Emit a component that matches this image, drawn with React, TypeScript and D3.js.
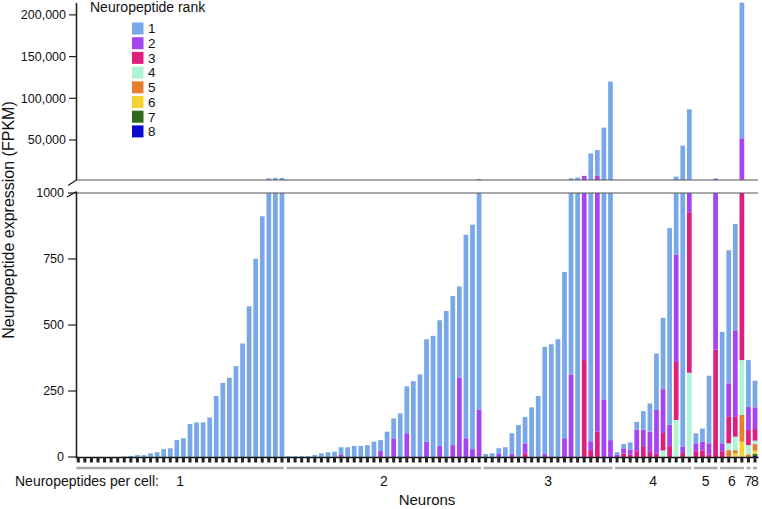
import React from 'react';
import * as d3 from 'd3';

const groupLabels = ['1', '2', '3', '4', '5', '6', '7', '8'];
const groupSizes = [32, 30, 20, 12, 4, 4, 1, 1];
const rankLabels = ['1', '2', '3', '4', '5', '6', '7', '8'];
const rankColors = ['#78a8e8', '#a444f2', '#df1f80', '#aef5d8', '#e67e30', '#f4d232', '#2f6a1a', '#0a0ad0'];
const upperTicks = [50000, 100000, 150000, 200000];
const lowerTicks = [0, 250, 500, 750, 1000];

// FPKM per neuron, one array per neuropeptide rank (104 neurons)
const rank1 = [
  0, 0, 0, 0, 0, 0, 0, 2, 4, 7, 7, 14, 18, 30, 33, 64, 71, 125, 131, 131, 150, 231, 281, 300, 344, 430, 571, 751, 912, 4000, 4500, 4500,
  3, 3, 3, 3, 8, 14, 18, 20, 27, 37, 42, 42, 45, 58, 41, 96, 75, 165, 178, 287, 313, 388, 459, 476, 553, 565, 345, 771, 850, 3120,
  11, 14, 19, 37, 79, 121, 100, 188, 231, 406, 427, 446, 630, 3687, 5000, 0, 33940, 31004, 64582, 119936,
  10, 16, 27, 29, 70, 107, 214, 270, 745, 5333, 43260, 84373,
  38, 50, 256, 193,
  422, 504, 403, 162600,
  177,
  101,
];
const rank2 = [
  0, 0, 0, 0, 0, 0, 0, 0, 0, 0, 0, 0, 0, 0, 0, 0, 0, 0, 0, 0, 0, 0, 0, 0, 0, 0, 0, 0, 0, 0, 0, 0,
  0, 0, 0, 0, 0, 0, 0, 0, 10, 0, 0, 0, 0, 0, 23, 0, 71, 0, 90, 0, 0, 58, 0, 42, 0, 45, 301, 71, 30, 180,
  0, 0, 14, 0, 11, 0, 38, 0, 0, 11, 0, 0, 71, 313, 0, 6633, 34, 6900, 218, 64,
  8, 19, 20, 82, 63, 74, 166, 166, 81, 407, 25, 1500,
  30, 33, 42, 3200,
  30, 127, 328, 49500,
  88,
  82,
];
const rank3 = [
  0, 0, 0, 0, 0, 0, 0, 0, 0, 0, 0, 0, 0, 0, 0, 0, 0, 0, 0, 0, 0, 0, 0, 0, 0, 0, 0, 0, 0, 0, 0, 0,
  0, 0, 0, 0, 0, 0, 0, 0, 0, 0, 0, 0, 0, 0, 0, 0, 0, 0, 0, 0, 0, 0, 0, 0, 0, 0, 0, 0, 0, 0,
  0, 0, 0, 0, 0, 0, 14, 0, 0, 0, 0, 0, 0, 0, 0, 367, 26, 96, 0, 0,
  0, 14, 8, 22, 41, 22, 12, 66, 41, 220, 15, 608,
  22, 25, 10, 407,
  22, 100, 75, 2133,
  57,
  44,
];
const rank4 = [
  0, 0, 0, 0, 0, 0, 0, 0, 0, 0, 0, 0, 0, 0, 0, 0, 0, 0, 0, 0, 0, 0, 0, 0, 0, 0, 0, 0, 0, 0, 0, 0,
  0, 0, 0, 0, 0, 0, 0, 0, 0, 0, 0, 0, 0, 0, 0, 0, 0, 0, 0, 0, 0, 0, 0, 0, 0, 0, 0, 0, 0, 0,
  0, 0, 0, 0, 0, 0, 0, 0, 0, 0, 0, 0, 0, 0, 0, 0, 0, 0, 0, 0,
  0, 0, 0, 0, 0, 0, 0, 25, 0, 140, 0, 319,
  0, 0, 0, 0,
  0, 26, 51, 208,
  35,
  13,
];
const rank5 = [
  0, 0, 0, 0, 0, 0, 0, 0, 0, 0, 0, 0, 0, 0, 0, 0, 0, 0, 0, 0, 0, 0, 0, 0, 0, 0, 0, 0, 0, 0, 0, 0,
  0, 0, 0, 0, 0, 0, 0, 0, 0, 0, 0, 0, 0, 0, 0, 0, 0, 0, 0, 0, 0, 0, 0, 0, 0, 0, 0, 0, 0, 0,
  0, 0, 0, 0, 0, 0, 0, 0, 0, 0, 0, 0, 0, 0, 0, 0, 0, 0, 0, 0,
  0, 0, 0, 0, 0, 0, 0, 0, 0, 0, 0, 0,
  0, 0, 0, 0,
  0, 26, 13, 101,
  10,
  25,
];
const rank6 = [
  0, 0, 0, 0, 0, 0, 0, 0, 0, 0, 0, 0, 0, 0, 0, 0, 0, 0, 0, 0, 0, 0, 0, 0, 0, 0, 0, 0, 0, 0, 0, 0,
  0, 0, 0, 0, 0, 0, 0, 0, 0, 0, 0, 0, 0, 0, 0, 0, 0, 0, 0, 0, 0, 0, 0, 0, 0, 0, 0, 0, 0, 0,
  0, 0, 0, 0, 0, 0, 0, 0, 0, 0, 0, 0, 0, 0, 0, 0, 0, 0, 0, 0,
  0, 0, 0, 0, 0, 0, 0, 0, 0, 0, 0, 0,
  0, 0, 0, 0,
  0, 0, 13, 58,
  0,
  12,
];
const rank7 = [
  0, 0, 0, 0, 0, 0, 0, 0, 0, 0, 0, 0, 0, 0, 0, 0, 0, 0, 0, 0, 0, 0, 0, 0, 0, 0, 0, 0, 0, 0, 0, 0,
  0, 0, 0, 0, 0, 0, 0, 0, 0, 0, 0, 0, 0, 0, 0, 0, 0, 0, 0, 0, 0, 0, 0, 0, 0, 0, 0, 0, 0, 0,
  0, 0, 0, 0, 0, 0, 0, 0, 0, 0, 0, 0, 0, 0, 0, 0, 0, 0, 0, 0,
  0, 0, 0, 0, 0, 0, 0, 0, 0, 0, 0, 0,
  0, 0, 0, 0,
  0, 0, 0, 0,
  0,
  8,
];
const rank8 = [
  0, 0, 0, 0, 0, 0, 0, 0, 0, 0, 0, 0, 0, 0, 0, 0, 0, 0, 0, 0, 0, 0, 0, 0, 0, 0, 0, 0, 0, 0, 0, 0,
  0, 0, 0, 0, 0, 0, 0, 0, 0, 0, 0, 0, 0, 0, 0, 0, 0, 0, 0, 0, 0, 0, 0, 0, 0, 0, 0, 0, 0, 0,
  0, 0, 0, 0, 0, 0, 0, 0, 0, 0, 0, 0, 0, 0, 0, 0, 0, 0, 0, 0,
  0, 0, 0, 0, 0, 0, 0, 0, 0, 0, 0, 0,
  0, 0, 0, 0,
  0, 0, 0, 0,
  0,
  4,
];

const FONT = "'Liberation Sans', Arial, Helvetica, sans-serif";

export default function App() {
  const W = 762;
  const H = 509;
  const ranks = [rank1, rank2, rank3, rank4, rank5, rank6, rank7, rank8];
  const keys = ranks.map((_, k) => 'r' + (k + 1));
  const n = rank1.length;
  const idx = d3.range(n);

  const x = d3.scaleBand<number>().domain(idx).range([75, 758.3]).paddingInner(0.28).paddingOuter(0.14);
  const bw = x.bandwidth();
  const cx = (i: number) => (x(i) as number) + bw / 2;
  const yLow = d3.scaleLinear().domain([0, 1000]).range([457, 193]);
  const yHigh = d3.scaleLinear().domain([0, 200000]).range([181.7, 14.9]);
  const upperBase = yHigh.invert(180);
  const axisX = 76.5;

  const rows = idx.map((i) => {
    const o: any = { i };
    ranks.forEach((r, k) => (o[keys[k]] = r[i]));
    return o;
  });
  const series = d3.stack<any>().keys(keys.slice().reverse())(rows);

  const rects: any[] = [];
  series.forEach((s) => {
    const k = keys.indexOf(s.key);
    const color = rankColors[k];
    s.forEach((d, j) => {
      const v0 = d[0];
      const v1 = d[1];
      if (v1 <= v0) return;
      const lo0 = Math.min(v0, 1000);
      const lo1 = Math.min(v1, 1000);
      if (lo1 > lo0) {
        rects.push(
          <rect key={`l${s.key}-${j}`} x={x(j)} width={bw} y={yLow(lo1)} height={yLow(lo0) - yLow(lo1)} fill={color} />
        );
      }
      if (v1 > upperBase) {
        const a = Math.max(v0, upperBase);
        rects.push(
          <rect key={`u${s.key}-${j}`} x={x(j)} width={bw} y={yHigh(v1)} height={yHigh(a) - yHigh(v1)} fill={color} />
        );
      }
    });
  });

  const groups: { label: string; s: number; e: number }[] = [];
  let start = 0;
  groupSizes.forEach((sz, g) => {
    groups.push({ label: groupLabels[g], s: start, e: start + sz - 1 });
    start += sz;
  });

  const fmt = d3.format(',');

  return (
    <svg width={W} height={H} style={{ position: 'absolute', left: 0, top: 0, background: '#fff' }} fontFamily={FONT}>
      {rects}

      <line x1={axisX} x2={758} y1={180} y2={180} stroke="#555" strokeWidth={1.2} />
      <line x1={axisX} x2={758} y1={193} y2={193} stroke="#555" strokeWidth={1.2} />

      <line x1={axisX} x2={axisX} y1={3} y2={180} stroke="#222" strokeWidth={1.6} />
      <line x1={axisX} x2={68} y1={180} y2={185.5} stroke="#222" strokeWidth={1.4} />
      {upperTicks.map((t) => (
        <g key={`ut${t}`}>
          <line x1={69} x2={axisX} y1={yHigh(t)} y2={yHigh(t)} stroke="#222" strokeWidth={1.2} />
          <text x={66} y={yHigh(t)} dy="0.35em" textAnchor="end" fontSize={12.5} fill="#111">
            {fmt(t)}
          </text>
        </g>
      ))}

      <line x1={axisX} x2={axisX} y1={192} y2={457.5} stroke="#222" strokeWidth={1.6} />
      <line x1={axisX} x2={67} y1={191.5} y2={197} stroke="#222" strokeWidth={1.4} />
      {lowerTicks.map((t) => (
        <g key={`lt${t}`}>
          <line x1={68} x2={axisX} y1={yLow(t)} y2={yLow(t)} stroke="#222" strokeWidth={1.2} />
          <text x={64} y={yLow(t)} dy="0.35em" textAnchor="end" fontSize={12.5} fill="#111">
            {String(t)}
          </text>
        </g>
      ))}

      <line x1={axisX - 0.8} x2={758.5} y1={457.5} y2={457.5} stroke="#111" strokeWidth={1.6} />
      {idx.map((i) => (
        <rect key={`xt${i}`} x={cx(i) - 1.5} y={457} width={3} height={5.5} fill="#222" />
      ))}

      {groups.map((g) => (
        <g key={`g${g.label}`}>
          <line x1={cx(g.s) - 2} x2={cx(g.e) + 2} y1={468} y2={468} stroke="#aaa" strokeWidth={2.5} />
          <text x={(cx(g.s) + cx(g.e)) / 2} y={486} textAnchor="middle" fontSize={14} fill="#111">
            {g.label}
          </text>
        </g>
      ))}
      <text x={15} y={486} fontSize={14} fill="#111">
        Neuropeptides per cell:
      </text>
      <text x={427} y={505} textAnchor="middle" fontSize={15} fill="#111">
        Neurons
      </text>

      <text transform="translate(14,220) rotate(-90)" textAnchor="middle" fontSize={16} fill="#111">
        Neuropeptide expression (FPKM)
      </text>

      <text x={90} y={12} fontSize={14} fill="#111">
        Neuropeptide rank
      </text>
      {rankLabels.map((lab, k) => (
        <g key={`lg${lab}`}>
          <rect x={132} y={22.5 + k * 14.7} width={11.5} height={12} fill={rankColors[k]} />
          <text x={148} y={28.5 + k * 14.7} dy="0.36em" fontSize={13.5} fill="#111">
            {lab}
          </text>
        </g>
      ))}
    </svg>
  );
}
